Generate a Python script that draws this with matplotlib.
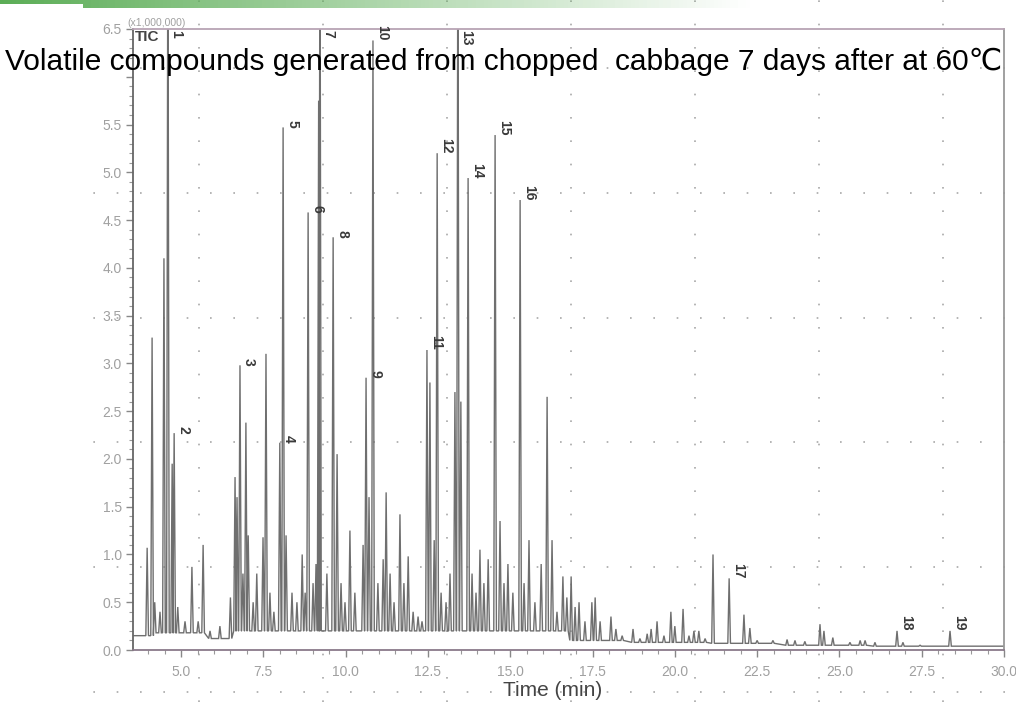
import numpy as np
import matplotlib
matplotlib.use("Agg")
import matplotlib.pyplot as plt
from matplotlib.lines import Line2D
from matplotlib.patches import Rectangle


# ============================================================
# DATA  (time in min, intensity x1e6)
# ============================================================

peak_t = [
    3.97, 4.12, 4.20, 4.36, 4.48, 4.60, 4.73, 4.79, 4.90, 5.12,
    5.33, 5.52, 5.67, 5.88, 6.18, 6.50, 6.64, 6.70, 6.79, 6.88,
    6.97, 7.04, 7.19, 7.30, 7.49, 7.58, 7.70, 7.82, 8.00, 8.10,
    8.19, 8.37, 8.52, 8.68, 8.77, 8.86, 9.01, 9.10, 9.18, 9.22,
    9.43, 9.62, 9.74, 9.86, 9.98, 10.13, 10.28, 10.53, 10.62, 10.71,
    10.83, 10.98, 11.14, 11.23, 11.35, 11.47, 11.65, 11.77, 11.90, 12.05,
    12.20, 12.32, 12.47, 12.56, 12.69, 12.78, 12.90, 13.05, 13.17, 13.32,
    13.41, 13.50, 13.72, 13.84, 13.96, 14.08, 14.20, 14.33, 14.54, 14.69,
    14.81, 14.93, 15.08, 15.30, 15.42, 15.57, 15.75, 15.94, 16.12, 16.27,
    16.42, 16.60, 16.72, 16.85, 16.97, 17.09, 17.27, 17.48, 17.58, 17.73,
    18.06, 18.21, 18.40, 18.73, 18.94, 19.16, 19.28, 19.46, 19.67, 19.88,
    20.00, 20.25, 20.43, 20.58, 20.73, 20.92, 21.16, 21.65, 22.10, 22.28,
    22.50, 22.98, 23.41, 23.65, 23.95, 24.41, 24.53, 24.80, 25.32, 25.63,
    25.78, 26.08, 26.75, 26.93, 27.45, 28.36,
]
peak_h = [
    1.07, 3.27, 0.50, 0.40, 4.10, 8.00, 1.95, 2.27, 0.45, 0.30,
    0.87, 0.30, 1.10, 0.20, 0.25, 0.55, 1.81, 1.60, 2.98, 0.80,
    2.38, 1.20, 0.50, 0.80, 1.18, 3.10, 0.60, 0.40, 2.17, 5.47,
    1.20, 0.60, 0.50, 1.00, 0.60, 4.58, 0.70, 0.90, 5.75, 8.00,
    0.80, 4.32, 2.05, 0.70, 0.50, 1.25, 0.60, 1.10, 2.85, 1.60,
    6.38, 0.70, 0.95, 1.65, 0.80, 0.50, 1.42, 0.70, 0.98, 0.40,
    0.35, 0.30, 3.14, 2.80, 1.15, 5.20, 0.60, 0.50, 0.80, 2.70,
    8.00, 2.60, 4.94, 0.80, 0.60, 1.05, 0.70, 0.95, 5.39, 1.35,
    0.70, 0.90, 0.60, 4.71, 0.70, 1.15, 0.50, 0.90, 2.65, 1.15,
    0.40, 0.77, 0.55, 0.77, 0.45, 0.50, 0.30, 0.50, 0.55, 0.30,
    0.35, 0.22, 0.15, 0.22, 0.12, 0.17, 0.22, 0.30, 0.15, 0.40,
    0.25, 0.43, 0.15, 0.20, 0.20, 0.12, 1.00, 0.75, 0.37, 0.23,
    0.10, 0.10, 0.11, 0.10, 0.09, 0.27, 0.20, 0.13, 0.08, 0.10,
    0.10, 0.08, 0.20, 0.08, 0.05, 0.20,
]

# baseline level per time window
base_edges  = [3.50, 4.20, 5.80, 6.60, 16.8, 18.5, 21.0, 23.0, 26.0]
base_levels = [0.15, 0.18, 0.12, 0.20, 0.10, 0.08, 0.07, 0.05, 0.04]

# numbered peaks
label_ids = ["1", "2", "3", "4", "5", "6", "7", "8", "9", "10",
             "11", "12", "13", "14", "15", "16", "17", "18", "19"]
label_t   = [4.60, 4.79, 6.79, 8.00, 8.10, 8.86, 9.22, 9.62, 10.62, 10.83,
             12.47, 12.78, 13.41, 13.72, 14.54, 15.30, 21.65, 26.75, 28.36]
label_h   = [8.00, 2.27, 2.98, 2.17, 5.47, 4.58, 8.00, 4.32, 2.85, 6.38,
             3.14, 5.20, 8.00, 4.94, 5.39, 4.71, 0.75, 0.20, 0.20]

# y tick labels (6.0 is covered by the title in the original)
y_ticks  = [0.0, 0.5, 1.0, 1.5, 2.0, 2.5, 3.0, 3.5, 4.0, 4.5, 5.0, 5.5, 6.0, 6.5]
y_labels = ["0.0", "0.5", "1.0", "1.5", "2.0", "2.5", "3.0", "3.5",
            "4.0", "4.5", "5.0", "5.5", "", "6.5"]

title = "Volatile compounds generated from chopped  cabbage 7 days after at 60\u2103"


# ============================================================
# BUILD TRACE  (each peak: foot - apex - foot)
# ============================================================

w = 0.04
xs, ys = [base_edges[0]], [base_levels[0]]
for t, h in sorted(zip(peak_t, peak_h)):
    b = base_levels[np.searchsorted(base_edges, t, side="right") - 1]
    xs += [t - w, t, t + w]
    ys += [b, h, b]
xs.append(30.0)
ys.append(base_levels[-1])


# ============================================================
# FIGURE
# ============================================================

W, H = 1016, 702
fig = plt.figure(figsize=(W / 100, H / 100), dpi=100)
fig.patch.set_facecolor("white")

# slide background: dotted guide grid
for yp in [68, 193, 318, 442, 567, 692]:
    fig.add_artist(Line2D([0, 1], [1 - yp / H] * 2, transform=fig.transFigure,
                          color="#a8a8a8", lw=1.2, ls=(0, (1, 13)), zorder=0))
for xp in [199, 323, 447, 571, 695, 819, 943]:
    fig.add_artist(Line2D([xp / W] * 2, [0, 1], transform=fig.transFigure,
                          color="#a8a8a8", lw=1.2, ls=(0, (1, 13)), zorder=0))

# green header bar
bar = fig.add_axes([0, 1 - 8 / H, 1, 8 / H])
grad = np.linspace(0, 1, 256)[None, :]
green = np.array([0.36, 0.68, 0.34])
img = np.ones((1, 256, 4))
img[..., :3] = green
img[..., 3] = np.clip(1 - grad * 1.35, 0, 1)
bar.imshow(img, aspect="auto", extent=[0, 1, 0, 1])
bar.set_axis_off()
fig.add_artist(Rectangle((0, 0), 83 / W, 1 - 4 / H, transform=fig.transFigure,
                         facecolor="white", edgecolor="none", zorder=1))

ax = fig.add_axes([133 / W, 52 / H, 871 / W, 621 / H])
ax.set_facecolor("none")
ax.plot(xs, ys, color="#6f6f6f", lw=1.0, solid_joinstyle="miter")

ax.set_xlim(3.54, 30.0)
ax.set_ylim(0, 6.5)
ax.set_xticks(np.arange(5.0, 30.01, 2.5))
ax.set_xticks(np.arange(4.0, 30.01, 0.5), minor=True)
ax.set_yticks(y_ticks)
ax.set_yticks(np.arange(0, 6.51, 0.1), minor=True)
ax.set_xticklabels([f"{v:.1f}" for v in np.arange(5.0, 30.01, 2.5)])
ax.set_yticklabels(y_labels)

tick_font = ["Liberation Sans Narrow", "Liberation Sans", "DejaVu Sans"]
for lab in ax.get_xticklabels() + ax.get_yticklabels():
    lab.set_family(tick_font)
    lab.set_fontsize(10)
    lab.set_color("#a0a0a0")
ax.tick_params(which="major", length=5, color="#888888", width=1, pad=3)
ax.tick_params(which="minor", length=3, color="#999999", width=0.8)
ax.tick_params(axis="x", pad=6)

ax.spines["left"].set_color("#666666")
ax.spines["bottom"].set_color("#8a7a8a")
ax.spines["top"].set_color("#b8a4b4")
ax.spines["right"].set_color("#999999")
for s in ax.spines.values():
    s.set_linewidth(1.3)

# peak numbers
for lab, t, h in zip(label_ids, label_t, label_h):
    if h > 6.4:
        ax.annotate(lab, (t, 6.5), xytext=(8, -1), textcoords="offset pixels",
                    rotation=-90, ha="center", va="top", fontsize=10,
                    fontweight="bold", color="#3a3a3a", family=tick_font,
                    annotation_clip=False)
    else:
        ax.annotate(lab, (t, h), xytext=(9, 0), textcoords="offset pixels",
                    rotation=-90, ha="center", va="bottom", fontsize=10,
                    fontweight="bold", color="#3a3a3a", family=tick_font)

ax.text(0.002, 0.998, "TIC", transform=ax.transAxes, ha="left", va="top",
        fontsize=11, fontweight="bold", color="#444444", family=tick_font)
ax.text(-0.006, 1.001, "(x1,000,000)", transform=ax.transAxes, ha="left",
        va="bottom", fontsize=7.5, color="#a0a0a0", family=tick_font)

fig.text(553 / W, 1 - 690 / H, "Time (min)", ha="center", va="center",
         fontsize=15, color="#444444", family=["Liberation Sans", "DejaVu Sans"])

fig.text(504 / W, 1 - 70 / H, title, ha="center", va="baseline",
         fontsize=21.5, color="black", family=["Liberation Sans", "DejaVu Sans"],
         zorder=5)

fig.savefig("out.png", dpi=100, facecolor="white")
